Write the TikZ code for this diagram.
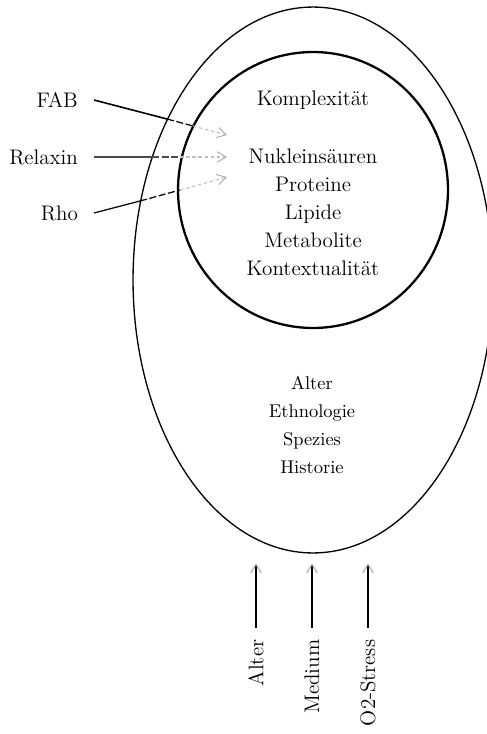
\documentclass[tikz,border=0pt]{standalone}
\usepackage{tikz}
\usetikzlibrary{shapes,arrows.meta,positioning}

\begin{document}
\begin{tikzpicture}[
    x=0.02cm, y=-0.02cm,
    cell/.style={ellipse, draw, line width=0.75pt, minimum width=7.2cm, minimum height=10.92cm, inner sep=0pt},
    core/.style={ellipse, draw, line width=1.3pt, minimum width=5.4cm, minimum height=5.52cm, inner sep=0pt},
    term/.style={font=\fontsize{12}{15.9}\selectfont, align=center},
    factor/.style={font=\fontsize{10.5}{15.9}\selectfont, align=center},
    drug/.style={font=\fontsize{12}{14}\selectfont, anchor=east, inner xsep=9pt},
    cond/.style={font=\fontsize{12}{14}\selectfont, rotate=90, anchor=east, inner xsep=6.5pt},
    fadetip/.style={-{Straight Barb[length=5pt, width=6pt, color=black!30]}},
    arrow/.style={fadetip, line width=0.7pt},
    cross/.style={line width=0.7pt, dash pattern=on 4pt off 1.5pt},
    faint/.style={fadetip, black!25, line width=0.6pt, dash pattern=on 2pt off 1.5pt}
]
\useasboundingbox (0,0) rectangle (487,734);

% Outer cell and inner core
\node[cell] (cell) at (313,280) {};
\node[core] (core) at (313,190) {};

% Core contents
\node[term] (complex) at (313,100) {Komplexität};
\node[term] (molecules) at (313,212) {Nukleinsäuren\\Proteine\\Lipide\\Metabolite\\Kontextualität};

% Cell contents
\node[factor] (context) at (312,425) {Alter\\Ethnologie\\Spezies\\Historie};

% Drugs on the left
\node[drug] (fab) at (94,100) {FAB};
\node[drug] (relaxin) at (94,157) {Relaxin};
\node[drug] (rho) at (94,213) {Rho};

% Entry points
\coordinate (fab-out) at (167,119);
\coordinate (fab-in) at (193,126);
\coordinate (fab-end) at (227,135);
\coordinate (relaxin-out) at (152,157);
\coordinate (relaxin-in) at (180,157);
\coordinate (relaxin-end) at (227,157);
\coordinate (rho-out) at (140,201);
\coordinate (rho-in) at (180,190);
\coordinate (rho-end) at (227,177);

% Arrows - drugs into the core
\draw[line width=0.9pt] (fab.east) -- (fab-out);
\draw[cross] (fab-out) -- (fab-in);
\draw[faint] (fab-in) -- (fab-end);
\draw[line width=0.6pt, black!70] (relaxin.east) -- (relaxin-out);
\draw[cross, black!70] (relaxin-out) -- (relaxin-in);
\draw[faint] (relaxin-in) -- (relaxin-end);
\draw[line width=0.7pt] (rho.east) -- (rho-out);
\draw[cross] (rho-out) -- (rho-in);
\draw[faint] (rho-in) -- (rho-end);

% Conditions below
\node[cond] (age) at (256,628) {Alter};
\node[cond] (medium) at (312,628) {Medium};
\node[cond] (stress) at (368,628) {O2-Stress};
\coordinate (age-tip) at (256,563);
\coordinate (medium-tip) at (312,563);
\coordinate (stress-tip) at (368,563);

% Arrows - conditions to the cell
\draw[arrow] (age) -- (age-tip);
\draw[arrow] (medium) -- (medium-tip);
\draw[arrow] (stress) -- (stress-tip);

\end{tikzpicture}
\end{document}
